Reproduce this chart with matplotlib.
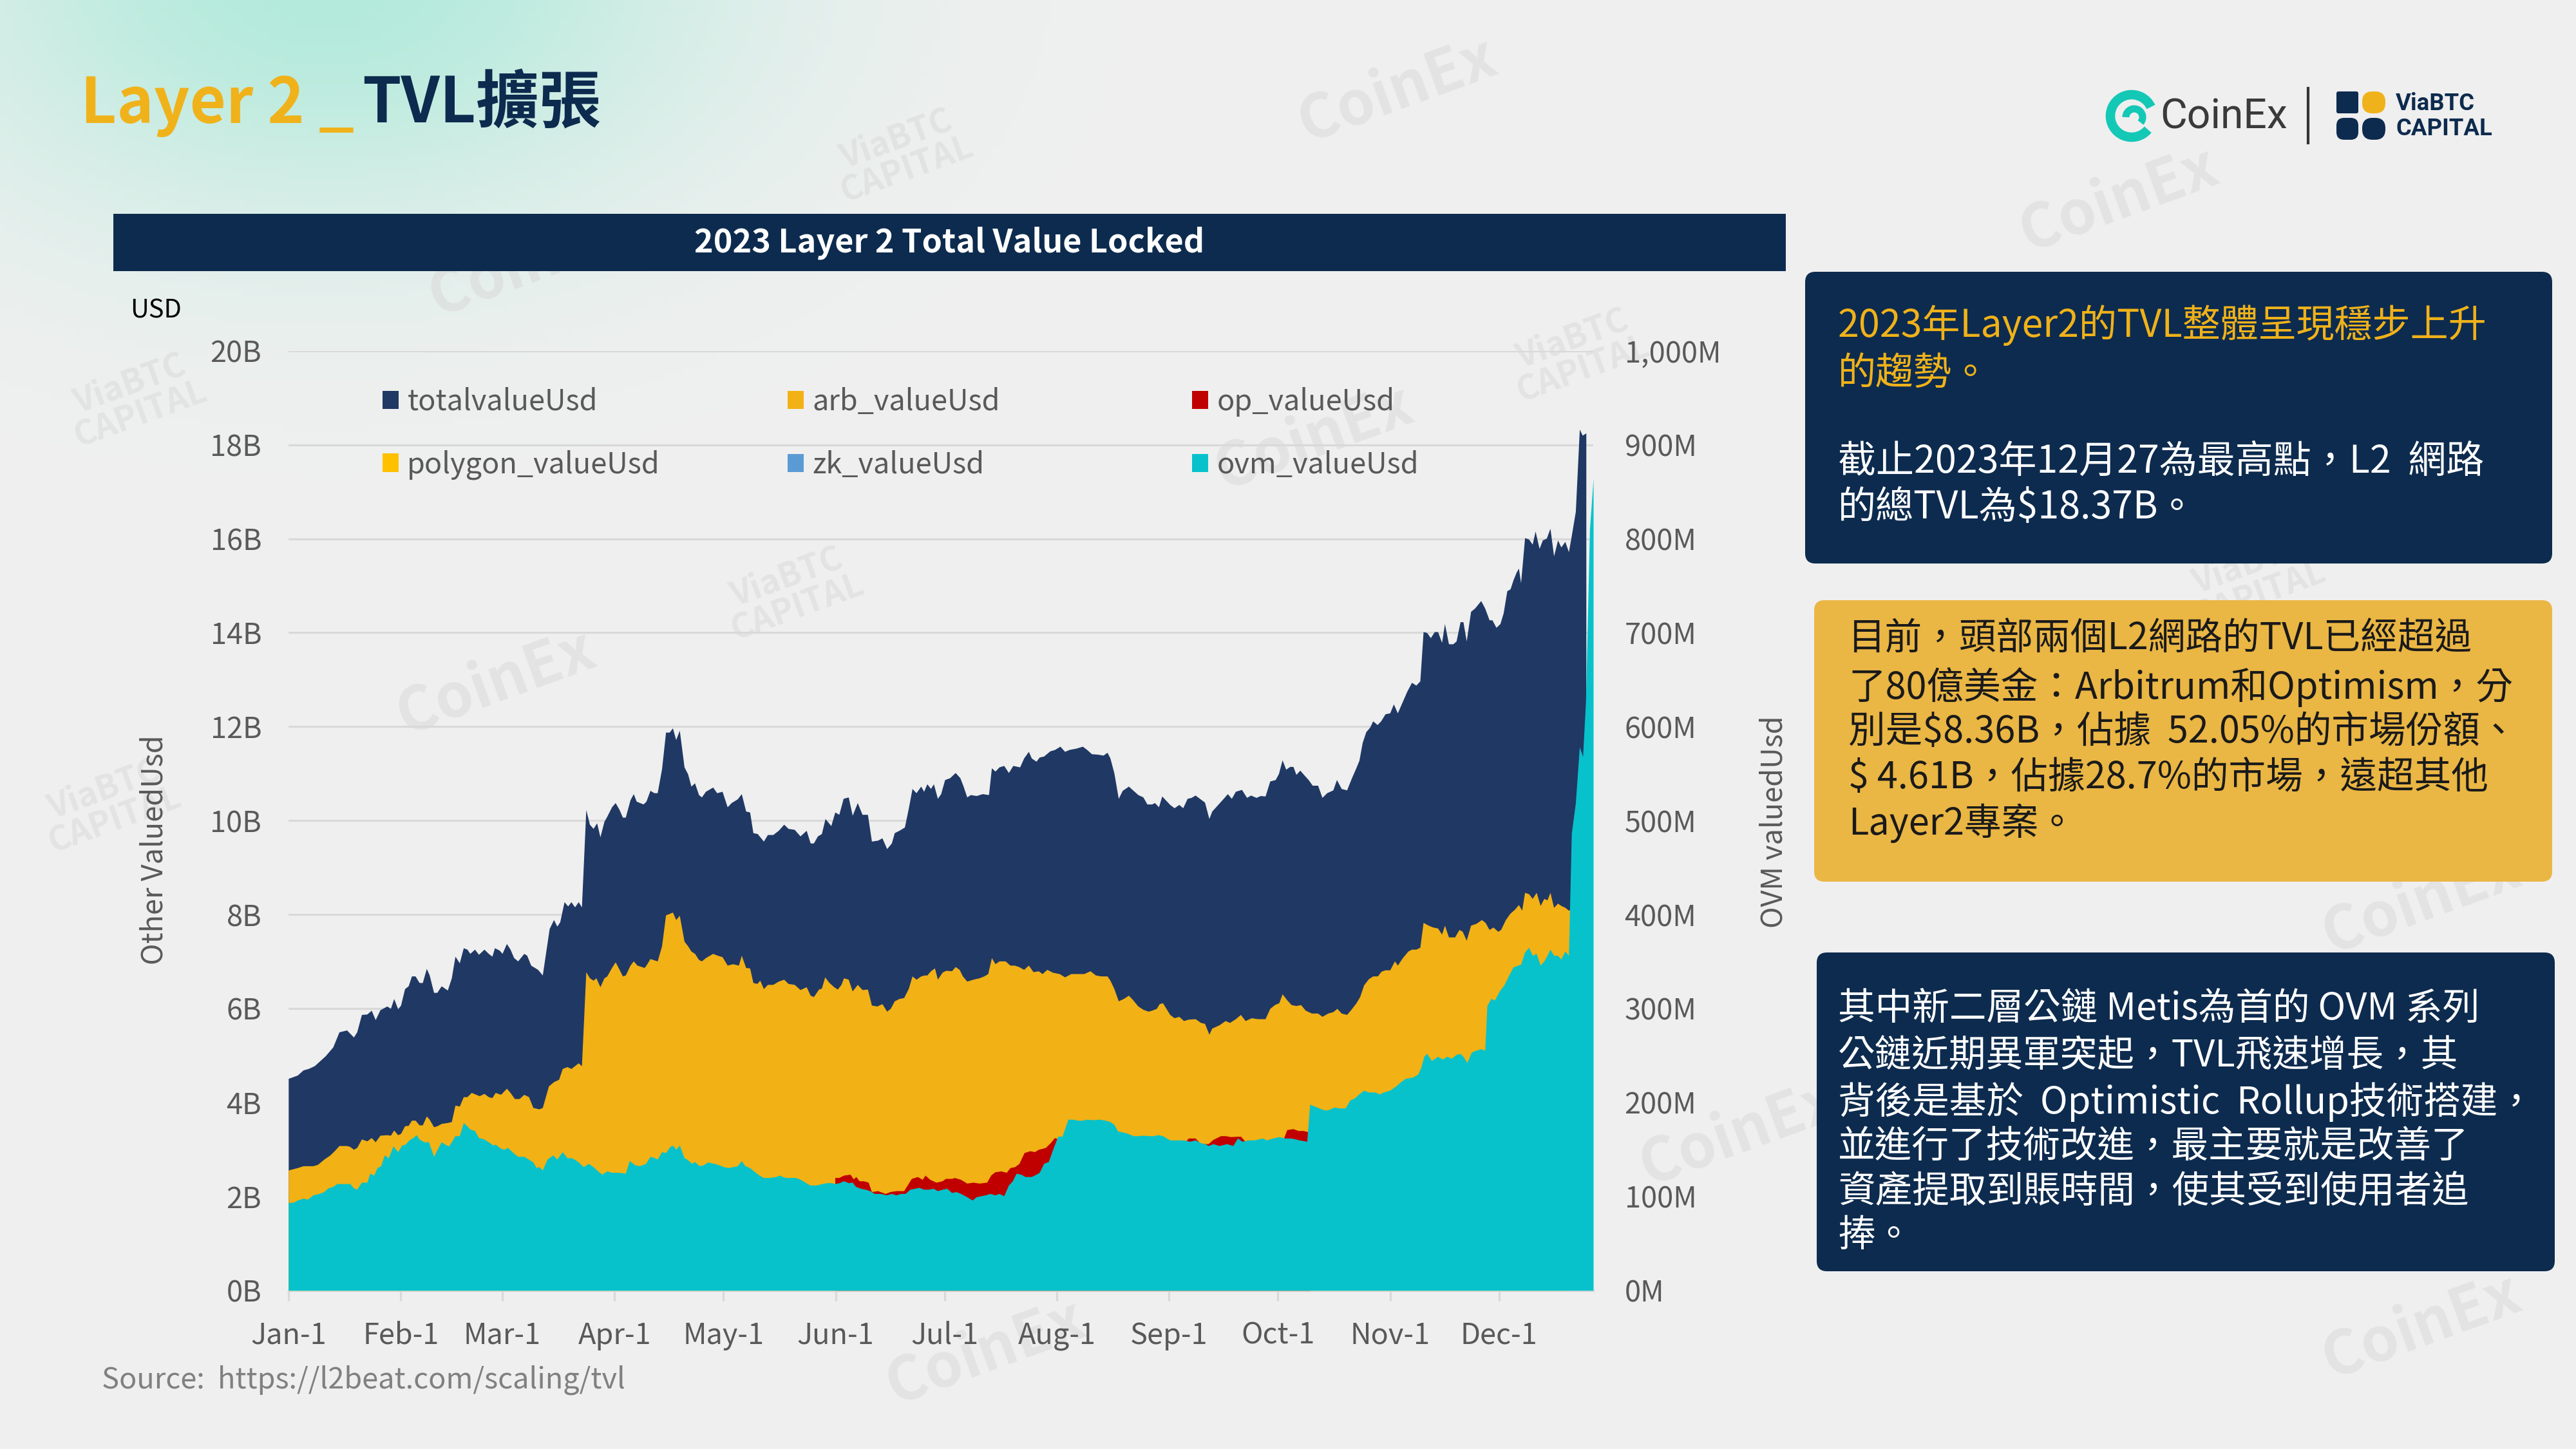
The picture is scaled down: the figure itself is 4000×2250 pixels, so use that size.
import numpy as np
import matplotlib
matplotlib.use("Agg")
import matplotlib.pyplot as plt
from matplotlib.patches import Patch, FancyBboxPatch, Rectangle, Arc

plt.rcParams['font.family'] = ['Noto Sans CJK TC', 'DejaVu Sans']

# --- data: (day of 2023, value) ---
# total / arb / op in billions USD (left axis), ovm in millions USD (right axis)
total_pts = [
    (0, 4.51), (2.5, 4.58), (4.1, 4.69), (5.5, 4.72), (7.2, 4.78), (10.2, 4.99), (12.3, 5.18),
    (14, 5.50), (16.1, 5.54), (18, 5.39), (18.9, 5.50), (20.2, 5.87), (21.7, 5.88), (22.9, 5.96),
    (24, 5.76), (25.3, 5.97), (27.2, 6.05), (28.2, 6.00), (29.1, 6.21), (30.2, 5.99), (31, 6.07),
    (32.1, 6.42), (33.1, 6.48), (34, 6.69), (35, 6.69), (36.1, 6.55), (37, 6.55), (38.1, 6.85),
    (38.9, 6.71), (40.1, 6.34), (41, 6.34), (42.2, 6.48), (43.9, 6.39), (45, 6.65), (46, 7.11),
    (47.2, 6.97), (48.3, 7.29), (49.3, 7.26), (50.1, 7.17), (51.4, 7.26), (52.5, 7.15), (54, 7.26),
    (55.2, 7.17), (56.2, 7.11), (56.9, 7.29), (58.2, 7.24), (59, 7.17), (60.2, 7.38), (61.2, 7.26),
    (62.2, 7.08), (63.3, 7.01), (65, 7.17), (65.8, 7.13), (66.9, 6.92), (68.8, 6.83), (70.1, 6.71),
    (72, 7.70), (73.2, 7.89), (74.1, 7.75), (74.9, 7.84), (76.1, 8.27), (77.1, 8.18), (78, 8.27),
    (79, 8.16), (80, 8.27), (80.9, 8.16), (82.1, 10.23), (83.1, 9.92), (84.1, 9.83), (85.1, 9.95),
    (86, 9.65), (87.1, 9.98), (87.9, 10.09), (89.2, 10.29), (90.2, 10.38), (91.3, 10.23),
    (92.2, 10.07), (93, 10.07), (94.3, 10.44), (95.2, 10.57), (96, 10.41), (97.9, 10.35),
    (98.7, 10.41), (99.8, 10.64), (100.9, 10.59), (101.8, 10.59), (103, 11.10), (104.1, 11.88),
    (105.1, 11.88), (106, 11.97), (106.9, 11.72), (107.9, 11.92), (109.2, 11.14), (110.2, 10.99),
    (111.1, 10.73), (112.1, 10.80), (113.2, 10.55), (114, 10.50), (115.1, 10.62), (117.1, 10.71),
    (118.2, 10.59), (119.7, 10.62), (121.1, 10.29), (122.2, 10.38), (123.9, 10.46), (125, 10.57),
    (126.2, 10.20), (127.3, 10.18), (128.2, 9.74), (129.4, 9.72), (131.1, 9.56), (132.2, 9.70),
    (133.7, 9.70), (135.2, 9.79), (136.7, 9.92), (137.9, 9.83), (139.6, 9.81), (141.2, 9.67),
    (142.9, 9.79), (144, 9.52), (144.9, 9.52), (146, 9.67), (147.1, 9.72), (148.1, 10.04),
    (149.7, 9.89), (150.8, 10.18), (151.9, 10.13), (153.1, 10.47), (154.5, 10.50), (155.6, 10.11),
    (157, 10.38), (158.3, 10.13), (159.8, 10.13), (160.9, 9.56), (162.6, 9.58), (163.8, 9.63),
    (165.1, 9.40), (166.4, 9.52), (167.2, 9.74), (168.5, 9.79), (170, 9.86), (171.1, 10.27),
    (172.1, 10.68), (173.2, 10.59), (174.5, 10.73), (175.3, 10.62), (176.2, 10.78), (177.2, 10.68),
    (178, 10.78), (179.1, 10.47), (180, 10.57), (181.1, 10.87), (182.5, 10.91), (184, 11.02),
    (185.3, 10.91), (186.2, 10.73), (187.2, 10.50), (188.2, 10.55), (189.8, 10.53), (191.5, 10.57),
    (193.2, 10.55), (194, 11.12), (195, 11.05), (196.1, 11.14), (197.4, 11.17), (198.7, 11.02),
    (199.9, 11.17), (201.8, 11.14), (202.9, 11.33), (204.2, 11.47), (205, 11.33), (206.3, 11.26),
    (207.2, 11.35), (208.4, 11.37), (210.1, 11.48), (211.4, 11.51), (212.9, 11.58), (214.2, 11.47),
    (215.4, 11.51), (217.4, 11.54), (219.1, 11.58), (220.3, 11.51), (221.6, 11.42), (223.3, 11.41),
    (224.8, 11.39), (225.9, 11.45), (226.7, 11.33), (227.8, 11.01), (229, 10.47), (230.1, 10.64),
    (231.8, 10.73), (233.1, 10.64), (234.4, 10.55), (235.8, 10.50), (236.9, 10.35), (238.2, 10.35),
    (239, 10.38), (240.1, 10.29), (241, 10.52), (243.2, 10.34), (244.4, 10.27), (245.7, 10.34),
    (246.8, 10.27), (248, 10.47), (249.1, 10.49), (250.2, 10.54), (251.4, 10.47), (252.8, 10.39),
    (254, 10.04), (254.8, 10.20), (256.8, 10.37), (258.2, 10.49), (259.1, 10.57), (260.2, 10.47),
    (261.3, 10.62), (263, 10.66), (264.4, 10.49), (265.5, 10.54), (267, 10.49), (268.2, 10.53),
    (269.5, 10.52), (270.8, 10.84), (272.3, 10.87), (273.2, 11.00), (274.2, 11.29), (275.2, 11.09),
    (276.3, 11.15), (277.2, 11.15), (278, 10.98), (279.1, 11.07), (280.1, 10.98), (281.4, 10.87),
    (282.5, 10.75), (284, 10.75), (285.2, 10.49), (286.5, 10.59), (288.2, 10.65), (289.2, 10.87),
    (290.5, 10.68), (292, 10.65), (293.3, 10.90), (294.6, 11.13), (295.4, 11.28), (296.3, 11.66),
    (297.3, 11.89), (298.4, 11.99), (299.2, 12.12), (300.4, 12.04), (301.4, 12.12), (302.6, 12.27),
    (303.9, 12.29), (304.9, 12.48), (306, 12.29), (307.3, 12.52), (308.6, 12.75), (309.9, 12.94),
    (311.1, 12.88), (312.2, 12.97), (313.1, 14.02), (314.1, 14.00), (315.1, 13.89), (316.2, 14.02),
    (317.1, 14.02), (318.2, 13.79), (319, 14.19), (320.1, 13.76), (321.3, 13.76), (322.2, 13.82),
    (323.3, 14.23), (324.1, 14.23), (325, 13.82), (326.2, 14.45), (327.3, 14.52), (329, 14.68),
    (330.1, 14.52), (331.3, 14.27), (332.1, 14.27), (333.2, 14.11), (334.3, 14.19), (335.2, 14.42),
    (336.2, 14.89), (337.1, 14.93), (337.9, 15.12), (338.8, 15.29), (339.4, 15.37), (340, 15.06),
    (341.1, 16.02), (342.2, 15.99), (343.2, 15.88), (344, 16.16), (345.1, 15.79), (346, 15.97),
    (347.1, 16.01), (348.1, 16.22), (349.1, 15.63), (350.2, 15.97), (351.1, 15.82), (352.2, 15.94),
    (353.2, 15.72), (354, 16.07), (355.1, 16.58), (356.2, 18.33), (357, 18.20), (358, 18.25),
]

arb_pts = [
    (0, 2.56), (2.5, 2.61), (4.1, 2.65), (6.8, 2.65), (8.1, 2.68), (9.8, 2.79), (11.5, 2.88),
    (12.7, 2.97), (14, 3.08), (16.1, 3.08), (17, 3.06), (18, 3.00), (18.9, 3.04), (20.2, 3.22),
    (21.7, 3.18), (22.9, 3.25), (24, 3.16), (25.3, 3.30), (27.2, 3.31), (28.2, 3.30), (29.1, 3.41),
    (30.2, 3.31), (31, 3.34), (32.1, 3.50), (33.1, 3.51), (34, 3.62), (35, 3.62), (36.1, 3.52),
    (37, 3.52), (38.1, 3.71), (38.9, 3.64), (40.1, 3.48), (41, 3.50), (42.2, 3.55), (43.9, 3.57),
    (45, 3.59), (46, 3.94), (47.2, 3.92), (48.3, 4.12), (49.3, 4.12), (50.5, 4.21), (52.7, 4.14),
    (54, 4.19), (55.2, 4.12), (56.2, 4.10), (57.1, 4.21), (58.6, 4.17), (60.2, 4.30), (61.2, 4.21),
    (62.4, 4.08), (63.7, 4.08), (65, 4.17), (66.3, 4.12), (67.5, 3.89), (69.2, 3.86), (70.1, 3.89),
    (71.8, 4.35), (73.2, 4.44), (74.6, 4.49), (75.6, 4.72), (76.9, 4.76), (78, 4.72), (79, 4.78),
    (80, 4.84), (80.9, 4.78), (82.1, 6.78), (83.1, 6.65), (84.1, 6.60), (84.9, 6.65), (86, 6.46),
    (87.1, 6.65), (87.9, 6.69), (89.2, 6.87), (90.2, 6.99), (91.3, 6.83), (92.2, 6.69), (93, 6.71),
    (94.3, 6.92), (95.2, 7.01), (96.2, 6.92), (98.2, 6.87), (98.7, 6.92), (99.8, 7.06), (101.8, 7.01),
    (103, 7.33), (104.1, 7.99), (105.1, 8.02), (106, 8.05), (106.9, 7.89), (107.9, 7.98),
    (109.2, 7.43), (110.2, 7.33), (111.1, 7.22), (112.1, 7.17), (113.2, 7.04), (114, 7.01),
    (115.1, 7.08), (117.1, 7.17), (118.4, 7.13), (119.7, 7.10), (121.1, 6.92), (122.6, 6.95),
    (124.2, 6.92), (125, 7.13), (126.2, 6.87), (127.3, 6.86), (128.2, 6.55), (129.3, 6.53),
    (130.1, 6.60), (131.1, 6.42), (132.2, 6.51), (133.7, 6.51), (135.2, 6.58), (136.7, 6.62),
    (137.9, 6.53), (139.6, 6.51), (141.2, 6.40), (142.9, 6.46), (144, 6.28), (144.9, 6.25),
    (146.3, 6.41), (147.1, 6.43), (148, 6.67), (149.2, 6.55), (150.5, 6.46), (151.5, 6.41),
    (152.5, 6.51), (153.2, 6.65), (154.5, 6.62), (155.6, 6.37), (157, 6.51), (158.3, 6.40),
    (159.8, 6.41), (160.9, 6.07), (162.4, 6.05), (163.8, 6.10), (165.1, 5.94), (166.1, 6.00),
    (167.2, 6.16), (168.5, 6.21), (169.8, 6.23), (171.1, 6.43), (172.1, 6.69), (173.2, 6.62),
    (174.5, 6.69), (175.5, 6.71), (176.2, 6.71), (177.2, 6.80), (178.3, 6.86), (179.1, 6.62),
    (180.4, 6.77), (181.4, 6.81), (183, 6.80), (184, 6.89), (185.1, 6.83), (186, 6.69), (187.2, 6.58),
    (188.9, 6.62), (190.6, 6.65), (191.9, 6.69), (193, 6.74), (194, 7.08), (195, 6.95), (196.1, 7.01),
    (197.8, 7.01), (199.1, 6.92), (200.3, 6.92), (201.5, 6.89), (202.9, 6.83), (204.2, 6.92),
    (205.5, 6.78), (206.9, 6.80), (208, 6.74), (209.3, 6.83), (210.8, 6.77), (212.7, 6.74),
    (214.2, 6.67), (215.9, 6.74), (217.8, 6.74), (219.5, 6.74), (221.2, 6.80), (222.7, 6.71),
    (224.2, 6.69), (225.9, 6.69), (226.7, 6.60), (227.8, 6.42), (229, 6.16), (230.4, 6.21),
    (231.8, 6.28), (232.9, 6.19), (234.4, 6.05), (235.8, 5.98), (237.2, 5.94), (238.2, 5.96),
    (239.5, 6.00), (240.3, 6.10), (241.2, 6.12), (243.2, 5.87), (244.4, 5.80), (245.7, 5.83),
    (247, 5.74), (248.3, 5.77), (250.2, 5.78), (251.7, 5.70), (252.8, 5.68), (254, 5.45),
    (254.8, 5.58), (256.8, 5.65), (258.5, 5.74), (259.7, 5.70), (261.3, 5.78), (262.7, 5.87),
    (264, 5.74), (265.7, 5.80), (267.4, 5.78), (269.5, 5.78), (270.8, 6.00), (272.1, 6.08),
    (273.3, 6.12), (274.2, 6.31), (275.5, 6.18), (276.7, 6.08), (278, 6.06), (279.3, 6.08),
    (280.6, 5.96), (282.3, 5.90), (284, 5.90), (285.2, 5.83), (286.8, 5.90), (288.2, 5.93),
    (289.3, 6.00), (290.5, 5.90), (292, 5.87), (293.3, 5.99), (294.6, 6.12), (295.6, 6.25),
    (296.7, 6.50), (298, 6.63), (299.2, 6.69), (300.5, 6.69), (301.5, 6.79), (302.6, 6.82),
    (303.9, 6.82), (305.2, 7.01), (306, 6.92), (307.3, 7.07), (308.9, 7.22), (309.9, 7.26),
    (311.1, 7.26), (312.2, 7.30), (313.1, 7.83), (314.5, 7.77), (315.8, 7.73), (317.1, 7.71),
    (318.2, 7.58), (319, 7.77), (320.1, 7.52), (321.8, 7.52), (323, 7.68), (323.9, 7.64),
    (325, 7.45), (326.2, 7.77), (327.7, 7.81), (329.2, 7.89), (330.2, 7.83), (331.3, 7.68),
    (332.4, 7.73), (333.7, 7.64), (334.5, 7.68), (335.8, 7.89), (337, 8.02), (338.3, 8.11),
    (339.4, 8.21), (340.3, 8.09), (341.1, 8.47), (342.2, 8.44), (343.2, 8.34), (344.3, 8.47),
    (345.4, 8.19), (346.4, 8.34), (347.3, 8.31), (348.1, 8.47), (349.1, 8.15), (350.2, 8.24),
    (351.1, 8.19), (352.2, 8.15), (353.2, 8.09), (354, 8.12),
]

op_pts = [
    (150.8, 2.40), (151.9, 2.40), (153.2, 2.45), (155, 2.47), (155.9, 2.37), (156.6, 2.42),
    (157.5, 2.33), (158.7, 2.33), (160, 2.30), (160.9, 2.10), (162.6, 2.12), (164.7, 2.06),
    (166, 2.10), (167.7, 2.12), (169.8, 2.12), (171.9, 2.38), (173.6, 2.42), (174.9, 2.36),
    (175.7, 2.45), (177, 2.36), (178.7, 2.30), (180.4, 2.33), (181.3, 2.38), (183, 2.38),
    (183.8, 2.40), (185.5, 2.36), (187.2, 2.28), (188.9, 2.30), (190.6, 2.28), (192.7, 2.30),
    (193.8, 2.45), (194.9, 2.52), (196.6, 2.54), (198.1, 2.51), (199.1, 2.61), (200.4, 2.63),
    (201.6, 2.70), (203, 2.93), (204.6, 2.97), (205.9, 2.95), (206.9, 3.00), (208, 3.02),
    (208.9, 3.04), (210.1, 3.13), (211.4, 3.25), (213, 3.20), (226, 3.20), (240, 3.15),
    (247, 3.12), (248.3, 3.24), (250.2, 3.24), (251.7, 3.12), (253.8, 3.12), (255.1, 3.21),
    (257.2, 3.29), (258.5, 3.29), (260, 3.27), (262.7, 3.28), (264, 3.17), (266, 3.10),
    (274, 3.12), (275.5, 3.42), (277.2, 3.44), (278.6, 3.40), (280, 3.40), (281, 3.38),
    (281.8, 3.38),
]

ovm_pts = [
    (0, 93.5), (1.3, 93.5), (2.5, 96), (4.1, 98), (5.3, 97), (6.8, 101.5), (8.5, 103), (9.8, 105),
    (11, 109), (12.3, 110.5), (13.4, 113.5), (14.9, 113.5), (17, 113.5), (18, 109), (18.9, 107.5),
    (20.2, 115), (21.7, 115), (22.5, 124.5), (23.6, 122.5), (24.5, 130.5), (25.5, 132.5),
    (26.5, 144), (27.6, 141), (28.9, 153.5), (30.2, 147.5), (31.3, 154.5), (32.3, 155.5),
    (33.3, 160), (34.4, 162.5), (35.3, 165.5), (36.1, 161), (37.4, 158), (38.7, 158),
    (40.1, 142.5), (41.2, 151), (42.2, 158), (43.2, 155.5), (44.2, 153.5), (45, 158), (46, 164.5),
    (47.2, 164.5), (48.3, 178.5), (49.3, 175), (50.1, 171.5), (51.4, 170), (52.5, 162.5),
    (54, 161), (55.2, 158), (56.5, 154.5), (57.1, 155.5), (58.6, 151), (59.5, 150), (60.5, 152),
    (62, 146.5), (63.3, 142.5), (65, 142.5), (66.3, 139.5), (67.5, 136.5), (68.4, 130.5),
    (69.2, 131.5), (70.1, 128), (71.4, 139.5), (73, 144), (74.1, 139.5), (75.6, 147.5),
    (76.9, 141), (78.2, 141), (79.9, 137), (81.4, 131.5), (82.8, 135), (84.1, 131.5), (85.4, 127),
    (86.5, 123.5), (87.9, 127), (89.2, 125.5), (91.3, 125.5), (93, 124.5), (94.1, 138),
    (95.6, 133.5), (96.9, 132.5), (98.6, 135), (99.8, 142.5), (101.1, 141), (101.8, 139.5),
    (103, 147.5), (104.1, 146.5), (105.4, 153.5), (106.2, 154), (106.9, 150), (107.9, 154.5),
    (109.2, 141), (110, 139.5), (111.3, 135), (112.1, 137), (113.4, 132.5), (114.5, 133.5),
    (115.7, 136.5), (117.5, 135), (118.8, 133.5), (120.1, 131.5), (121.4, 130.5), (122.6, 131.5),
    (123.9, 132.5), (125, 138), (126, 132.5), (127.3, 130.5), (128.4, 127), (129.9, 122.5),
    (131.1, 120), (132.8, 120), (134.5, 121), (135.4, 122.5), (137.1, 120), (138.6, 120),
    (140, 120), (141.3, 118), (142.6, 115), (143.9, 112), (145.6, 112), (147.3, 113.5),
    (148.5, 114.5), (149.8, 114.5), (150.8, 113.5), (152, 114.5), (153.2, 116.5), (154.5, 114.5),
    (155.6, 115), (156.5, 110.5), (157.9, 108.5), (159.2, 107.5), (160.4, 106), (161.7, 103),
    (163.4, 103), (165, 101.5), (166.4, 103), (167.7, 101.5), (168.9, 103), (170.2, 103),
    (171.5, 107.5), (172.8, 108.5), (174, 109.5), (175.3, 107.5), (176.6, 107.5), (177.9, 108.5),
    (179.1, 106), (180.4, 107.5), (181.7, 108.5), (183, 104), (184.2, 105), (185.5, 103),
    (187.2, 99.5), (188.7, 96), (189.8, 99.5), (191, 100.5), (192.3, 101.5), (193.6, 103),
    (194.9, 101.5), (196.1, 103), (197.4, 100.5), (198.7, 112), (199.8, 116.5), (200.8, 124.5),
    (202.1, 123.5), (203.3, 121), (205, 121), (206.3, 123.5), (207.2, 125.5), (208.4, 135),
    (209.7, 137), (211, 151), (212.3, 164), (213.5, 164), (215.1, 182), (216.5, 182), (217.8, 181),
    (219.1, 181), (220.3, 182), (222, 181.5), (223.7, 182), (225.4, 181), (226.7, 179.5),
    (227.8, 176.5), (228.8, 169.5), (230.1, 168.5), (231.6, 167), (233.1, 164.5), (234.4, 164.5),
    (235.8, 165), (237.2, 164.5), (238.6, 164.5), (240, 165.5), (241.2, 164.5), (243.2, 160),
    (245.3, 160), (247, 160), (248.7, 158.5), (250.2, 160), (251.7, 157), (252.9, 156),
    (253.8, 154), (255.1, 156), (256.8, 154), (258.9, 156), (260.6, 154), (261.9, 162),
    (263.1, 158.5), (264.8, 160), (266.5, 160), (268.7, 162), (269.9, 160), (271.6, 162),
    (273.3, 163.5), (275, 162), (276.7, 162), (278.9, 160), (281, 158.5), (281.8, 198),
    (283.1, 196), (284.4, 194), (285.7, 192), (286.9, 192), (288.5, 195), (289.9, 194),
    (291.6, 194), (292.9, 202.5), (294.1, 204.5), (295.4, 209), (296.7, 213), (298, 211),
    (299.7, 211), (301, 209), (302.2, 211), (303.9, 213), (305.6, 217.5), (306.9, 222),
    (308.2, 225.5), (310.3, 227), (311.6, 230), (312.4, 236.5), (313.3, 249), (314.1, 252),
    (315.4, 244.5), (317.1, 249), (318.4, 246), (319.6, 249), (320.9, 247), (322.2, 251),
    (323.3, 252), (324.1, 249), (325.2, 242.5), (326.4, 253.5), (327.7, 255.5), (329, 257),
    (330.1, 255.5), (330.7, 303), (331.8, 310.5), (332.8, 309), (334.1, 318.5), (335.4, 325),
    (336.6, 334.5), (337.9, 344), (339.2, 346), (340, 347), (341.1, 360), (342.2, 365),
    (343.2, 356.5), (344.3, 358.5), (345.4, 346), (346.4, 350.5), (347.3, 356.5), (348.1, 363),
    (349.1, 356.5), (350.2, 356.5), (351.1, 352.5), (352.2, 361), (353.2, 356.5), (354, 486.5),
    (355.1, 518.5), (356.2, 578.5), (357.1, 568), (357.9, 626), (359, 810), (360, 864),
]

month_days = [0, 31, 59, 90, 120, 151, 181, 212, 243, 273, 304, 334]
month_labels = ['Jan-1', 'Feb-1', 'Mar-1', 'Apr-1', 'May-1', 'Jun-1',
                'Jul-1', 'Aug-1', 'Sep-1', 'Oct-1', 'Nov-1', 'Dec-1']
left_ticks = list(range(0, 21, 2))
right_ticks = list(range(0, 1001, 100))

# colours
NAVY = '#203864'
ARB = '#F2B115'
OP = '#C00000'
POLY = '#FFC000'
ZK = '#5B9BD5'
OVM = '#08C2CB'
DARK = '#0D2B4E'
GOLD = '#F0B21A'
BG = '#F0F0F0'
GREY = '#595959'

W, H = 4000, 2250
fig = plt.figure(figsize=(16, 9), dpi=250)
fig.patch.set_facecolor(BG)

# background layer in pixel coordinates (y down)
bg = fig.add_axes([0, 0, 1, 1], zorder=-10)
bg.set_xlim(0, W)
bg.set_ylim(H, 0)
bg.axis('off')

yy, xx = np.mgrid[0:H:10, 0:W:10]
w = np.exp(-(((xx - 500) / 900.0) ** 2 + ((yy + 40) / 560.0) ** 2) * 2.2)
base = np.array([0.941, 0.941, 0.941])
mint = np.array([0.70, 0.92, 0.86])
img = base[None, None, :] * (1 - w[..., None]) + mint[None, None, :] * w[..., None]
bg.imshow(img, extent=[0, W, H, 0], origin='upper', aspect='auto', zorder=0)

# watermarks
marks = [(2170, 140, 'CoinEx'), (1400, 240, 'ViaBTC\nCAPITAL'), (820, 410, 'CoinEx'),
         (210, 620, 'ViaBTC\nCAPITAL'), (2040, 680, 'CoinEx'), (2450, 550, 'ViaBTC\nCAPITAL'),
         (3290, 310, 'CoinEx'), (1230, 920, 'ViaBTC\nCAPITAL'), (770, 1060, 'CoinEx'),
         (3500, 900, 'ViaBTC\nCAPITAL'), (2700, 1760, 'CoinEx'), (1530, 2100, 'CoinEx'),
         (3760, 2060, 'CoinEx'), (170, 1250, 'ViaBTC\nCAPITAL'), (3760, 1400, 'CoinEx')]
for mx, my, mt in marks:
    bg.text(mx, my, mt, rotation=20, ha='center', va='center', fontsize=27 if mt == 'CoinEx' else 15,
            fontweight='bold', color='#d9d9d9', alpha=0.55, zorder=1, linespacing=0.9)

# title
t1 = bg.text(125, 191, 'Layer 2 _', color=GOLD, fontsize=28, fontweight='bold', va='baseline', zorder=3)
r = fig.canvas.get_renderer()
x_end = t1.get_window_extent(r).x1
bg.text(x_end + 12, 191, 'TVL擴張', color=DARK, fontsize=28, fontweight='bold', va='baseline', zorder=3)

# chart header bar
bg.add_patch(Rectangle((176, 332), 2597, 89, facecolor=DARK, edgecolor='none', zorder=2))
bg.text(1474, 377, '2023 Layer 2 Total Value Locked', color='white', fontsize=14.5,
        fontweight='bold', ha='center', va='center', zorder=3)

bg.text(202, 482, 'USD', color='black', fontsize=11.5, va='center', zorder=3)
bg.text(158, 2143, 'Source:  https://l2beat.com/scaling/tvl', color='#808080', fontsize=13,
        va='center', zorder=3)

# logos top right
bg.add_patch(Arc((3310, 180), 66, 66, theta1=40, theta2=335, color='#14C8B6', lw=4.2, zorder=3))
bg.add_patch(Arc((3314, 182), 26, 26, theta1=180, theta2=40, color='#14C8B6', lw=3.2, zorder=3))
bg.text(3354, 182, 'CoinEx', color='#3a3a3a', fontsize=18.5, va='center', zorder=3,
        family=['Roboto', 'DejaVu Sans'])
bg.plot([3584, 3584], [137, 222], color='#333333', lw=1.2, zorder=3)
bg.add_patch(FancyBboxPatch((3628, 142), 34, 34, boxstyle='round,pad=0,rounding_size=3',
                            facecolor=DARK, edgecolor='none', zorder=3))
bg.add_patch(FancyBboxPatch((3668, 142), 36, 34, boxstyle='round,pad=0,rounding_size=16',
                            facecolor=GOLD, edgecolor='none', zorder=3))
bg.add_patch(FancyBboxPatch((3628, 183), 34, 34, boxstyle='round,pad=0,rounding_size=12',
                            facecolor=DARK, edgecolor='none', zorder=3))
bg.add_patch(FancyBboxPatch((3668, 183), 36, 34, boxstyle='round,pad=0,rounding_size=16',
                            facecolor=DARK, edgecolor='none', zorder=3))
bg.text(3720, 161, 'ViaBTC', color=DARK, fontsize=10.5, fontweight='bold', va='center', zorder=3,
        family=['Roboto', 'DejaVu Sans'])
bg.text(3720, 200, 'CAPITAL', color=DARK, fontsize=10.5, fontweight='bold', va='center', zorder=3,
        family=['Roboto', 'DejaVu Sans'])

# text boxes on the right
def box(x0, y0, x1, y1, color):
    bg.add_patch(FancyBboxPatch((x0, y0), x1 - x0, y1 - y0, boxstyle='round,pad=0,rounding_size=16',
                                facecolor=color, edgecolor='none', zorder=2))

box(2803, 422, 3963, 875, DARK)
box(2817, 932, 3963, 1369, '#EAB644')
box(2821, 1479, 3967, 1974, DARK)

box1 = [(505, '2023年Layer2的TVL整體呈現穩步上升', GOLD), (580, '的趨勢。', GOLD),
        (717, '截止2023年12月27為最高點，L2  網路', 'white'), (789, '的總TVL為$18.37B。', 'white')]
box2 = ['目前，頭部兩個L2網路的TVL已經超過', '了80億美金：Arbitrum和Optimism，分',
        '別是$8.36B，佔據  52.05%的市場份額、', '$ 4.61B，佔據28.7%的市場，遠超其他', 'Layer2專案。']
box3 = ['其中新二層公鏈 Metis為首的 OVM 系列', '公鏈近期異軍突起，TVL飛速增長，其',
        '背後是基於  Optimistic  Rollup技術搭建，', '並進行了技術改進，最主要就是改善了',
        '資產提取到賬時間，使其受到使用者追', '捧。']
for y, t, c in box1:
    bg.text(2854, y, t, color=c, fontsize=17, va='center', zorder=3)
for y, t in zip([992, 1067, 1137, 1208, 1278], box2):
    bg.text(2870, y, t, color='#1a1a1a', fontsize=16.6, va='center', zorder=3)
for y, t in zip([1567, 1640, 1711, 1781, 1851, 1919], box3):
    bg.text(2854, y, t, color='white', fontsize=16.6, va='center', zorder=3)

# --- chart ---
ax = fig.add_axes([447.8 / W, 1 - 2003.7 / H, (2474 - 447.8) / W, (2003.7 - 544.7) / H])
ax.set_facecolor('none')
ax2 = ax.twinx()

td, tv = zip(*total_pts)
ad, av = zip(*arb_pts)
od, ov = zip(*op_pts)
vd, vv = zip(*ovm_pts)
ax.fill_between(td, tv, color=NAVY, lw=0, zorder=2)
ax.fill_between(ad, av, color=ARB, lw=0, zorder=3)
ax.fill_between(od, ov, color=OP, lw=0, zorder=4)
ax2.fill_between(vd, vv, color=OVM, lw=0, zorder=2)

ax.set_xlim(0, 360)
ax.set_ylim(0, 20)
ax2.set_ylim(0, 1000)

ax.set_yticks(left_ticks)
ax.set_yticklabels([f'{v}B' for v in left_ticks])
ax2.set_yticks(right_ticks)
ax2.set_yticklabels([f'{v:,}M' for v in right_ticks])
ax.set_xticks(month_days)
ax.set_xticklabels(month_labels)

ax.yaxis.grid(True, color='#d9d9d9', lw=0.9)
ax.set_axisbelow(True)
for a in (ax, ax2):
    for s in a.spines.values():
        s.set_visible(False)
ax.spines['bottom'].set_visible(True)
ax.spines['bottom'].set_color('#d9d9d9')
ax.spines['bottom'].set_linewidth(1.0)
ax.tick_params(axis='x', colors='#d9d9d9', length=4.5, width=0.9, pad=9, labelsize=13,
               labelcolor=GREY)
ax.tick_params(axis='y', length=0, pad=12, labelsize=13, labelcolor=GREY)
ax2.tick_params(axis='y', length=0, pad=14, labelsize=13, labelcolor=GREY)

ax.set_ylabel('Other ValuedUsd', fontsize=13, color=GREY)
ax.yaxis.set_label_coords(-0.0913, 0.469)
ax2.set_ylabel('OVM valuedUsd', fontsize=13, color=GREY)
ax2.yaxis.set_label_coords(1.127, 0.499)

# legend, three columns of two entries
cols = [[('totalvalueUsd', NAVY), ('polygon_valueUsd', POLY)],
        [('arb_valueUsd', ARB), ('zk_valueUsd', ZK)],
        [('op_valueUsd', OP), ('ovm_valueUsd', OVM)]]
for i, (col, lx) in enumerate(zip(cols, [594, 1223, 1851])):
    hs = [Patch(facecolor=c, edgecolor='none') for _, c in col]
    leg = ax2.legend(hs, [n for n, _ in col], loc='center left',
                     bbox_to_anchor=(lx / W, 1 - 673 / H), bbox_transform=fig.transFigure,
                     frameon=False, fontsize=13, handlelength=0.55, handleheight=0.6,
                     handletextpad=0.3, borderpad=0, borderaxespad=0, labelspacing=1.15,
                     labelcolor=GREY)
    if i < 2:
        ax2.add_artist(leg)

fig.savefig('out.png', dpi=250, facecolor=fig.get_facecolor())
